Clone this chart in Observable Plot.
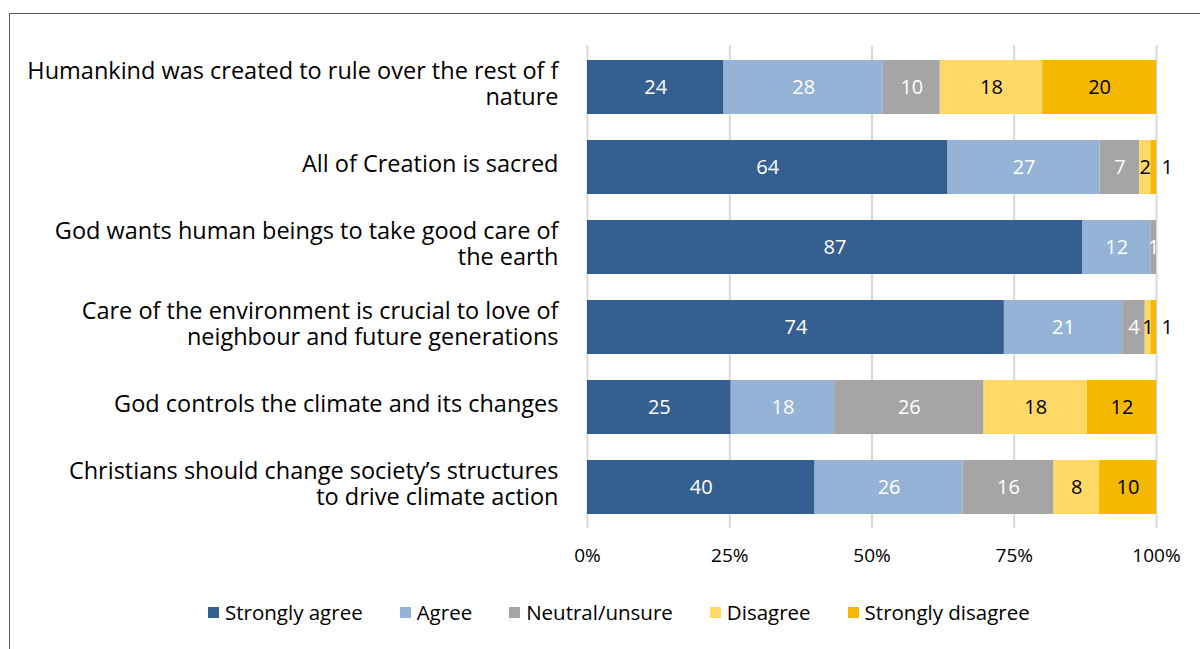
<!DOCTYPE html>
<html>
<head>
<meta charset="utf-8">
<script src="https://cdn.jsdelivr.net/npm/d3@7"></script>
<script src="https://cdn.jsdelivr.net/npm/@observablehq/plot@0.6"></script>
<style>
  html, body { margin: 0; padding: 0; background: #fff; color: #000; }
  body { width: 1200px; height: 649px; position: relative; overflow: hidden; font-family: "Open Sans", Roboto, sans-serif; }
  #frame { position: absolute; left: 9px; top: 13px; width: 1400px; height: 800px; border: 1px solid #595959; box-sizing: border-box; pointer-events: none; }
  #chart { position: absolute; left: 0; top: 0; }
  #legend { position: absolute; left: 208px; top: 598px; display: flex; align-items: center; font-size: 20.5px; white-space: nowrap; }
  #legend .item { display: flex; align-items: center; margin-right: 37px; }
  #legend .sw { width: 11px; height: 11px; margin-right: 6px; }
</style>
</head>
<body>
<div id="chart"></div>
<div id="legend"></div>
<div id="frame"></div>
<script>
const categories = ["Strongly agree", "Agree", "Neutral/unsure", "Disagree", "Strongly disagree"];
const colors = ["#365F91", "#95B3D7", "#A5A5A5", "#FFD966", "#F5B800"];
const statements = [
  "Humankind was created to rule over the rest of f\nnature",
  "All of Creation is sacred",
  "God wants human beings to take good care of\nthe earth",
  "Care of the environment is crucial to love of\nneighbour and future generations",
  "God controls the climate and its changes",
  "Christians should change society\u2019s structures\nto drive climate action"
];
const stronglyAgree    = [24, 64, 87, 74, 25, 40];
const agree            = [28, 27, 12, 21, 18, 26];
const neutral          = [10,  7,  1,  4, 26, 16];
const disagree         = [18,  2,  0,  1, 18,  8];
const stronglyDisagree = [20,  1,  0,  1, 12, 10];
const tickValues = [0, 0.25, 0.5, 0.75, 1];
const tickLabels = ["0%", "25%", "50%", "75%", "100%"];

const series = [stronglyAgree, agree, neutral, disagree, stronglyDisagree];
const table = [];
statements.forEach((q, i) => {
  categories.forEach((cat, j) => {
    table.push({q, cat, value: series[j][i], dark: j < 3});
  });
});
const isOutside = d => d.cat === "Strongly disagree" && d.value > 0 && d.value < 3;

const stackOpts = {offset: "normalize", order: categories};
const chart = Plot.plot({
  width: 1200,
  height: 580,
  marginLeft: 587,
  marginRight: 44,
  marginTop: 45,
  marginBottom: 52,
  style: {fontFamily: "'Open Sans', Roboto, sans-serif", background: "transparent", color: "#000"},
  x: {domain: [0, 1]},
  y: {domain: statements, paddingInner: 0.33, paddingOuter: 0.165},
  color: {domain: categories, range: colors},
  marks: [
    Plot.gridX(tickValues, {stroke: "#d9d9d9", strokeOpacity: 1, strokeWidth: 2}),
    Plot.barX(table, Plot.stackX(stackOpts, {x: "value", y: "q", fill: "cat"})),
    Plot.text(table, Plot.stackX(stackOpts, {
      x: "value", y: "q", z: "cat",
      text: d => (d.dark && d.value > 0) ? String(d.value) : "",
      fill: "white", fontSize: 20
    })),
    Plot.text(table, Plot.stackX(stackOpts, {
      x: "value", y: "q", z: "cat",
      text: d => (!d.dark && d.value > 0 && !isOutside(d)) ? String(d.value) : "",
      fill: "black", fontSize: 20
    })),
    Plot.text(table.filter(isOutside), {
      x: () => 1, y: "q", text: d => String(d.value),
      textAnchor: "start", dx: 5, fill: "black", fontSize: 20
    }),
    Plot.axisY({tickSize: 0, tickPadding: 29, fontSize: 23.5, lineHeight: 1.14, dy: -4, label: null, fill: "#000"}),
    Plot.axisX(tickValues, {tickSize: 0, tickPadding: 20, fontSize: 19, label: null,
      tickFormat: d => tickLabels[tickValues.indexOf(d)], fill: "#000"})
  ]
});
document.getElementById("chart").appendChild(chart);

const legend = document.getElementById("legend");
categories.forEach((c, i) => {
  const item = document.createElement("div");
  item.className = "item";
  const sw = document.createElement("div");
  sw.className = "sw";
  sw.style.background = colors[i];
  const t = document.createElement("span");
  t.textContent = c;
  item.appendChild(sw);
  item.appendChild(t);
  legend.appendChild(item);
});
</script>
</body>
</html>
